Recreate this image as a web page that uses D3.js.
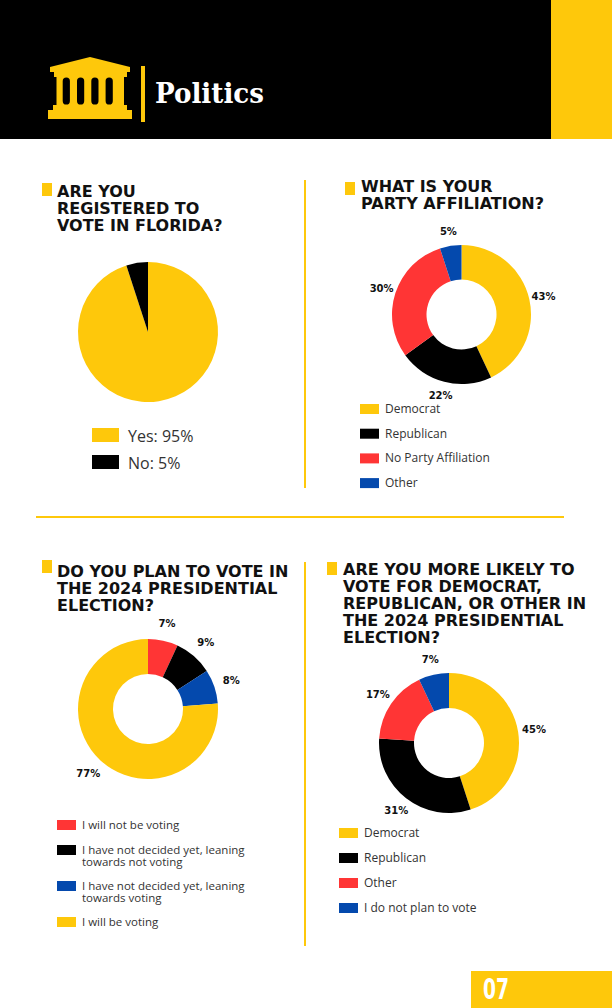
<!DOCTYPE html>
<html lang="en">
<head>
<meta charset="utf-8">
<title>Politics</title>
<script src="https://d3js.org/d3.v7.min.js" charset="utf-8"></script>
<style type="text/css">
	body { margin: 0; background: #fff; }
	svg { display: block; }
	.title { font-family: "DejaVu Sans", sans-serif; font-weight: bold; font-size: 16px; fill: #111; }
	.legend { font-family: "Open Sans", sans-serif; fill: #333; }
	.pct { font-family: "DejaVu Sans", sans-serif; font-weight: bold; font-size: 10px; fill: #111; }
</style>
</head>
<body>
<script type="text/javascript">

	// Chart data
	var registeredLabels = ["Yes", "No"];
	var registeredValues = [95, 5];

	var partyLabels = ["Democrat", "Republican", "No Party Affiliation", "Other"];
	var partyValues = [43, 22, 30, 5];

	var planLabels = ["I will not be voting",
		"I have not decided yet, leaning towards not voting",
		"I have not decided yet, leaning towards voting",
		"I will be voting"];
	var planValues = [7, 9, 8, 77];

	var likelyLabels = ["Democrat", "Republican", "Other", "I do not plan to vote"];
	var likelyValues = [45, 31, 17, 7];

	var titles = [
		["ARE YOU", "REGISTERED TO", "VOTE IN FLORIDA?"],
		["WHAT IS YOUR", "PARTY AFFILIATION?"],
		["DO YOU PLAN TO VOTE IN", "THE 2024 PRESIDENTIAL", "ELECTION?"],
		["ARE YOU MORE LIKELY TO", "VOTE FOR DEMOCRAT,", "REPUBLICAN, OR OTHER IN", "THE 2024 PRESIDENTIAL", "ELECTION?"]
	];

	// Colors
	var yellow = "#FEC80B", black = "#000000", red = "#FF3535", blue = "#0449AD";

	var w = 612, h = 1008;

	var svg = d3.select("body").append("svg")
		.attr("width", w)
		.attr("height", h);

	// Header
	svg.append("rect").attr("x", 0).attr("y", 0).attr("width", 551).attr("height", 139).attr("fill", "#000");
	svg.append("rect").attr("x", 551).attr("y", 0).attr("width", w - 551).attr("height", 139).attr("fill", yellow);

	// temple icon
	var icon = svg.append("g").attr("fill", yellow);
	icon.append("polygon").attr("points", "50,67 90,57 130,67 130,72 50,72");
	icon.append("rect").attr("x", 54).attr("y", 71).attr("width", 73).attr("height", 6);
	icon.append("rect").attr("x", 56.5).attr("y", 76).attr("width", 67.5).attr("height", 30);
	icon.append("rect").attr("x", 53).attr("y", 105).attr("width", 74).attr("height", 6);
	icon.append("rect").attr("x", 48).attr("y", 110).attr("width", 84).attr("height", 9);
	[66.3, 80.6, 94.9, 109.2].forEach(function(cx) {
		svg.append("rect")
			.attr("x", cx - 3.6).attr("y", 77.5)
			.attr("width", 7.2).attr("height", 27)
			.attr("rx", 3.6)
			.attr("fill", "#000");
	});

	svg.append("rect").attr("x", 141).attr("y", 66).attr("width", 4).attr("height", 56).attr("fill", yellow);

	svg.append("text")
		.attr("x", 155).attr("y", 103)
		.attr("textLength", 109)
		.attr("lengthAdjust", "spacingAndGlyphs")
		.style("font-family", "'DejaVu Serif', serif")
		.style("font-weight", "bold")
		.style("font-size", "28px")
		.attr("fill", "#fff")
		.text("Politics");

	// Dividers
	svg.append("line").attr("x1", 305).attr("x2", 305).attr("y1", 180).attr("y2", 488)
		.attr("stroke", yellow).attr("stroke-width", 2);
	svg.append("line").attr("x1", 305).attr("x2", 305).attr("y1", 562).attr("y2", 946)
		.attr("stroke", yellow).attr("stroke-width", 2);
	svg.append("line").attr("x1", 36).attr("x2", 564).attr("y1", 517).attr("y2", 517)
		.attr("stroke", yellow).attr("stroke-width", 2);

	// Titles
	function drawTitle(lines, sx, sy, tx, ty) {
		svg.append("rect").attr("x", sx).attr("y", sy).attr("width", 10).attr("height", 13).attr("fill", yellow);
		var t = svg.append("text").attr("class", "title");
		lines.forEach(function(line, i) {
			t.append("tspan").attr("x", tx).attr("y", ty + i * 17).text(line);
		});
	}
	drawTitle(titles[0], 42, 183, 57, 197);
	drawTitle(titles[1], 345, 182, 361, 192);
	drawTitle(titles[2], 42, 560, 57, 577);
	drawTitle(titles[3], 327, 562, 343, 575);

	// Pie / donut
	function drawDonut(opts) {
		var color = d3.scaleOrdinal().domain(opts.labels).range(opts.colors);
		var pie = d3.pie().sort(null).value(function(d) { return d.value; });
		var data = opts.labels.map(function(l, i) { return { label: l, value: opts.values[i] }; });
		var arcs = pie(data);
		var arc = d3.arc().innerRadius(opts.inner).outerRadius(opts.r);
		var labelArc = d3.arc().innerRadius(opts.labelR || 0).outerRadius(opts.labelR || 0);

		var g = svg.append("g").attr("transform", "translate(" + opts.cx + "," + opts.cy + ")");
		g.selectAll("path")
			.data(arcs)
			.enter()
			.append("path")
			.attr("d", arc)
			.attr("fill", function(d) { return color(d.data.label); });

		if (opts.labelR) {
			g.selectAll(".pct")
				.data(arcs)
				.enter()
				.append("text")
				.attr("class", "pct")
				.attr("transform", function(d) { return "translate(" + labelArc.centroid(d) + ")"; })
				.attr("text-anchor", "middle")
				.attr("dy", "0.35em")
				.text(function(d) { return d.data.value + "%"; });
		}
		return color;
	}

	// Wrap legend text
	function wrap(text, width, lineHeight) {
		text.each(function() {
			var text = d3.select(this),
				words = text.text().split(/\s+/).reverse(),
				word,
				line = [],
				lineNumber = 0,
				x = text.attr("x"),
				y = text.attr("y"),
				tspan = text.text(null).append("tspan").attr("x", x).attr("y", y);
			while (word = words.pop()) {
				line.push(word);
				tspan.text(line.join(" "));
				if (tspan.node().getComputedTextLength() > width) {
					line.pop();
					tspan.text(line.join(" "));
					line = [word];
					lineNumber++;
					tspan = text.append("tspan").attr("x", x).attr("y", +y + lineNumber * lineHeight).text(word);
				}
			}
			text.attr("data-lines", lineNumber + 1);
		});
	}

	function drawLegend(opts) {
		var y = opts.y;
		opts.labels.forEach(function(l, i) {
			svg.append("rect")
				.attr("x", opts.x).attr("y", y)
				.attr("width", opts.sw).attr("height", opts.sh)
				.attr("fill", opts.color(l));
			var t = svg.append("text")
				.attr("class", "legend")
				.attr("x", opts.tx)
				.attr("y", y + opts.base)
				.style("font-size", opts.fs + "px")
				.text(opts.prefix ? l + ": " + opts.values[i] + "%" : l);
			var n = 1;
			if (opts.wrapWidth) {
				t.call(wrap, opts.wrapWidth, opts.lineHeight);
				n = +t.attr("data-lines");
			}
			y += opts.step + (n - 1) * (opts.extra || 0);
		});
	}

	var c1 = drawDonut({ cx: 148, cy: 332, r: 70, inner: 0,
		labels: registeredLabels, values: registeredValues, colors: [yellow, black] });
	drawLegend({ labels: registeredLabels, values: registeredValues, color: c1, prefix: true,
		x: 92, y: 428, sw: 27, sh: 14, tx: 128, base: 14, fs: 16, step: 27 });

	var c2 = drawDonut({ cx: 461.5, cy: 314.5, r: 69.5, inner: 35, labelR: 84,
		labels: partyLabels, values: partyValues, colors: [yellow, black, red, blue] });
	drawLegend({ labels: partyLabels, color: c2,
		x: 360, y: 404, sw: 19, sh: 10, tx: 385, base: 9, fs: 12, step: 24.7 });

	var c3 = drawDonut({ cx: 148, cy: 709, r: 70, inner: 35, labelR: 88,
		labels: planLabels, values: planValues, colors: [red, black, blue, yellow] });
	drawLegend({ labels: planLabels, color: c3,
		x: 57, y: 820, sw: 19, sh: 10, tx: 82, base: 8.5, fs: 11.5, step: 25, extra: 11,
		wrapWidth: 180, lineHeight: 12.5 });

	var c4 = drawDonut({ cx: 449, cy: 743, r: 70, inner: 35, labelR: 86,
		labels: likelyLabels, values: likelyValues, colors: [yellow, black, red, blue] });
	drawLegend({ labels: likelyLabels, color: c4,
		x: 339, y: 828, sw: 19, sh: 10, tx: 364, base: 8.5, fs: 12, step: 25 });

	// Page number
	svg.append("rect").attr("x", 471).attr("y", 971).attr("width", w - 471).attr("height", 37).attr("fill", yellow);
	svg.append("text")
		.attr("x", 483).attr("y", 999)
		.attr("textLength", 26)
		.attr("lengthAdjust", "spacingAndGlyphs")
		.style("font-family", "'Liberation Sans Narrow', 'DejaVu Sans Condensed', sans-serif")
		.style("font-weight", "bold")
		.style("font-size", "29px")
		.attr("fill", "#fff")
		.text("07");

</script>
</body>
</html>
